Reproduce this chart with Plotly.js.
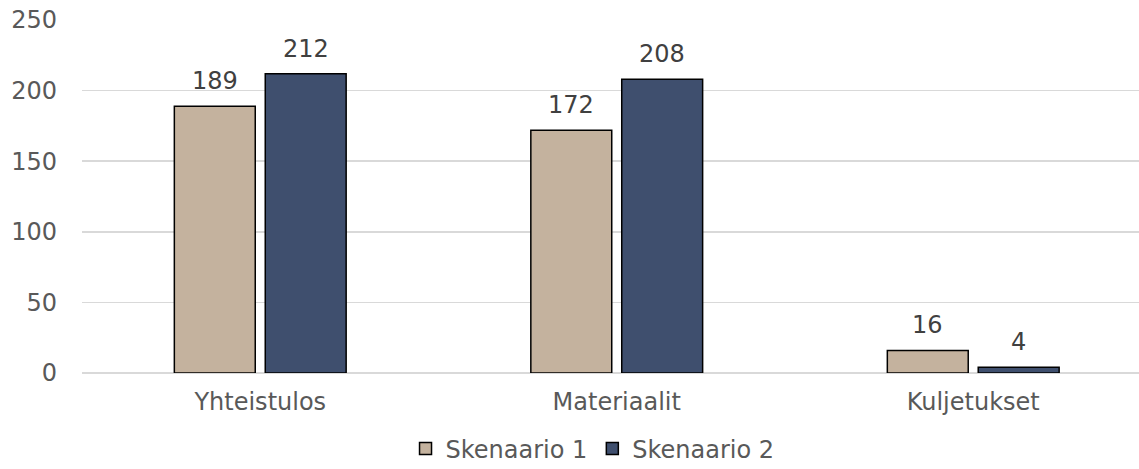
<!DOCTYPE html>
<html>
<head>
<meta charset="utf-8">
<script src="https://cdn.plot.ly/plotly-3.0.1.min.js"></script>
<style>
html,body{margin:0;padding:0;background:#fff;overflow:hidden;}
#chart{width:1139px;height:469px;}
</style>
</head>
<body>
<div id="chart"></div>
<script>
const categories = ['Yhteistulos', 'Materiaalit', 'Kuljetukset'];
const skenaario1 = [189, 172, 16];
const skenaario2 = [212, 208, 4];
const seriesNames = ['Skenaario 1', 'Skenaario 2'];
const yTicks = [0, 50, 100, 150, 200, 250];

const FONT = '"DejaVu Sans", Verdana, sans-serif';
const colors = ['#C4B29E', '#3F4F6E'];
const bargap = 0.49, bargroupgap = 0.11;

const traces = [skenaario1, skenaario2].map((vals, i) => ({
  type: 'bar',
  name: seriesNames[i],
  x: categories,
  y: vals,
  marker: {color: colors[i], line: {color: '#000000', width: 1.5}},
  hoverinfo: 'skip'
}));

// data labels above each bar
const slot = (1 - bargap) / 2;
const annotations = [];
[skenaario1, skenaario2].forEach((vals, s) => {
  vals.forEach((v, k) => {
    annotations.push({
      x: k + (s === 0 ? -slot / 2 : slot / 2),
      y: v,
      xref: 'x', yref: 'y',
      text: String(v),
      showarrow: false,
      yanchor: 'bottom',
      yshift: 9,
      font: {family: FONT, size: 24, color: '#404040'}
    });
  });
});

const layout = {
  width: 1139, height: 469,
  margin: {l: 82, r: 0, t: 20, b: 96, autoexpand: false},
  paper_bgcolor: '#ffffff', plot_bgcolor: '#ffffff',
  font: {family: FONT, size: 24, color: '#595959'},
  barmode: 'group', bargap: bargap, bargroupgap: bargroupgap,
  showlegend: true,
  legend: {
    orientation: 'h', x: 0.483, xanchor: 'center', y: -0.215, yanchor: 'middle',
    font: {family: FONT, size: 24, color: '#595959'},
    traceorder: 'normal', itemclick: false, itemdoubleclick: false
  },
  xaxis: {
    type: 'category', range: [-0.5, 2.465], automargin: false,
    showgrid: false, zeroline: false, showline: false,
    ticks: '', ticklabelstandoff: 12,
    tickfont: {family: FONT, size: 24, color: '#595959'}
  },
  yaxis: {
    range: [0, 250], tickvals: yTicks, ticktext: yTicks.map(String), automargin: false,
    showgrid: true, gridcolor: '#D9D9D9', gridwidth: 1.5,
    zeroline: true, zerolinecolor: '#D9D9D9', zerolinewidth: 1.5,
    showline: false, ticks: '', ticklabelstandoff: 24,
    tickfont: {family: FONT, size: 24, color: '#595959'}
  },
  annotations: annotations
};

Plotly.newPlot('chart', traces, layout, {displayModeBar: false, staticPlot: true});
</script>
</body>
</html>
